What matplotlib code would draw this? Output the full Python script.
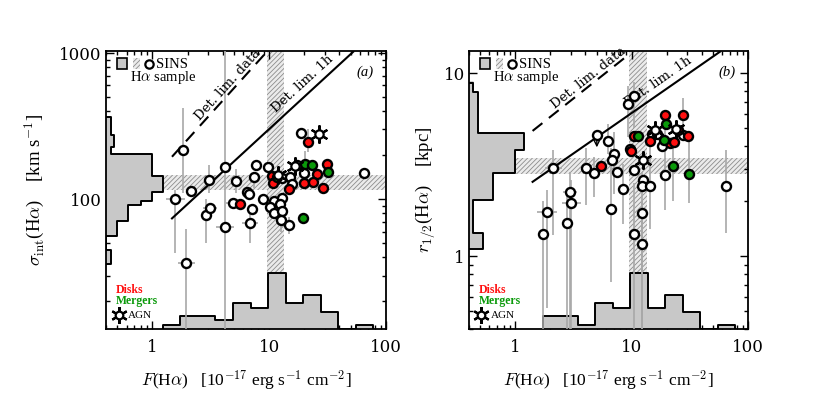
import numpy as np
import matplotlib.pyplot as plt
from matplotlib.patches import Rectangle

plt.rcParams['font.family'] = ['Liberation Serif', 'DejaVu Serif']
plt.rcParams['mathtext.fontset'] = 'cm'
plt.rcParams['hatch.linewidth'] = 0.6

# ---------------- DATA : panel (a) ----------------
a_white_F = [1.82, 1.57, 2.15, 3.03, 4.15, 2.9, 3.13, 4.18, 5.15, 4.9, 6.5, 6.7, 7.1, 6.8,
             7.35, 7.75, 8.8, 9.7, 12.8, 15.1, 15.6, 10.9, 12.8, 10.2, 12.4, 10.9, 12.8,
             12.7, 14.7, 17.2, 18.7, 19.8, 64.6, 1.95]
a_white_s = [217, 100, 113, 135, 165, 78, 87, 64.6, 133, 94, 112, 109, 86, 69,
             141, 170, 100, 166, 139, 141, 127, 97, 101, 88.5, 92, 80.6, 83,
             72, 67, 171, 282, 150, 152, 36.6]
a_disk_F = [5.57, 10.5, 10.8, 14.8, 21.6, 25.5, 19.8, 23.6, 28.8, 31.0]
a_disk_s = [92, 144, 129, 118, 245, 148, 129, 131, 120, 175]
a_merg_F = [11.6, 20.3, 23.1, 31.6, 19.6]
a_merg_s = [142, 173, 171, 153, 74]
a_agn_F = [26.9, 16.5, 11.9]
a_agn_s = [279, 168, 147]

# vertical error bars (F, sigma, low, high)
a_yerr_F = [1.82, 1.57, 1.95, 4.15, 3.03, 2.9, 5.15, 6.8, 7.35, 21.6, 12.7, 14.7, 20.3]
a_yerr_s = [217, 100, 36.6, 165, 135, 78, 133, 69, 141, 245, 72, 67, 173]
a_yerr_lo = [110, 43, 13, 13, 110, 50, 110, 50, 120, 210, 60, 58, 160]
a_yerr_hi = [420, 115, 62, 1100, 170, 100, 160, 85, 150, 300, 85, 75, 215]
# horizontal error bars (F, sigma, low, high)
a_xerr_F = [1.57, 1.95, 3.13, 4.18, 4.9, 6.8]
a_xerr_s = [100, 36.6, 87, 64.6, 94, 69]
a_xerr_lo = [1.3, 1.65, 2.7, 3.5, 4.3, 5.8]
a_xerr_hi = [1.9, 2.3, 3.6, 5.0, 5.6, 8.0]

# histograms (log10 edges, counts)
a_fhist_edges = [0.09, 0.24, 0.39, 0.54, 0.69, 0.84, 0.99, 1.14, 1.29, 1.44, 1.59, 1.74, 1.89]
a_fhist_counts = [1, 3, 3, 2, 6, 5, 13, 6, 8, 4, 0, 1]
a_shist_edges = [2.56, 2.44, 2.355, 2.31, 2.155, 2.05, 1.99, 1.96, 1.85, 1.75, 1.65, 1.555]
a_shist_counts = [1.1, 1.9, 1.1, 10.6, 13.1, 10.6, 8.1, 5.0, 2.6, 0, 1.1]

# detection limits (F, sigma endpoints)
a_lim1h_F = [1.47, 52.5]
a_lim1h_s = [73.8, 1021]
a_limdat_F = [1.47, 9.55]
a_limdat_s = [195, 1021]
# SINS ranges (hatched bands)
a_band_F = [9.55, 13.5]
a_band_s = [115, 146]

# ---------------- DATA : panel (b) ----------------
b_white_F = [2.1, 5.03, 6.3, 7.13, 6.85, 4.07, 4.76, 7.55, 8.5, 9.4, 10.5, 9.7, 10.5, 12.5,
             12.2, 14.4, 12.4, 14.9, 16.4, 18.4, 19.5, 27.5, 64.4, 2.96, 3.02, 1.87, 2.78,
             6.67, 1.73, 10.6, 12.2]
b_white_r = [3.04, 4.62, 4.25, 3.64, 3.37, 3.04, 2.85, 2.89, 2.34, 6.83, 7.5, 3.85, 2.95, 2.62,
             2.42, 2.42, 1.73, 4.64, 4.64, 3.99, 2.77, 4.62, 2.41, 2.23, 1.96, 1.75, 1.51,
             1.82, 1.33, 1.32, 1.16]
b_disk_F = [5.47, 9.8, 10.6, 14.4, 19.4, 21.4, 23.2, 24.9, 27.5, 30.7]
b_disk_r = [3.1, 3.75, 4.56, 4.25, 5.9, 4.16, 4.22, 4.92, 5.9, 4.54]
b_merg_F = [11.3, 19.8, 19.1, 22.6, 31.0]
b_merg_r = [4.52, 5.3, 4.3, 3.11, 2.8]
b_agn_F = [12.6, 15.8, 24.3]
b_agn_r = [3.35, 4.88, 4.95]
b_ulim_F = [5.03]
b_ulim_r = [4.62]
b_ulim_to = [3.8]

b_yerr_F = [1.73, 1.87, 2.1, 2.96, 3.02, 2.78, 4.07, 4.76, 6.67, 6.3, 7.13, 9.4, 10.5,
            10.6, 12.2, 12.4, 14.4, 19.5, 22.6, 27.5, 31.0, 64.4, 8.5]
b_yerr_r = [1.33, 1.75, 3.04, 2.23, 1.96, 1.51, 3.04, 2.85, 1.82, 4.25, 3.64, 6.83, 7.5,
            1.32, 1.16, 1.73, 2.42, 2.77, 3.11, 5.9, 2.8, 2.41, 2.34]
b_yerr_lo = [0.4, 0.52, 1.3, 0.4, 0.4, 0.4, 1.9, 2.1, 0.72, 3.6, 2.2, 4.5, 5.0,
             0.4, 0.4, 0.4, 1.4, 1.8, 2.0, 4.3, 1.95, 1.34, 1.5]
b_yerr_hi = [2.0, 2.3, 3.8, 2.9, 2.6, 2.2, 3.9, 3.5, 3.9, 5.3, 4.8, 8.5, 9.0,
             2.5, 2.0, 2.9, 4.0, 6.3, 4.0, 7.3, 4.2, 3.8, 3.2]
b_xerr_F = [1.87, 3.02, 2.96, 2.1]
b_xerr_r = [1.75, 1.96, 2.23, 3.04]
b_xerr_lo = [1.55, 2.5, 2.6, 1.8]
b_xerr_hi = [2.3, 3.7, 3.4, 2.5]

b_fhist_edges = [0.24, 0.39, 0.54, 0.69, 0.84, 0.99, 1.14, 1.29, 1.44, 1.59, 1.74, 1.89]
b_fhist_counts = [3, 3, 1, 6, 5, 13, 5, 8, 4, 0, 1]
b_rhist_edges = [0.947, 0.898, 0.786, 0.674, 0.579, 0.455, 0.306, 0.127, 0.042]
b_rhist_counts = [0.9, 2.2, 2.2, 12.7, 10.7, 5.6, 0.9, 3.3]

b_lim1h_F = [1.41, 57.5]
b_lim1h_r = [2.55, 13.1]
b_limdat_F = [1.41, 9.7]
b_limdat_r = [4.84, 12.8]
b_band_F = [9.6, 13.5]
b_band_r = [2.83, 3.46]

RED = '#ff1010'
GREEN = '#0a9a0a'
EGRAY = '#a8a8a8'
HFILL = '#c8c8c8'
UNIT = 0.0155  # axes fraction per histogram count
HATCH = dict(facecolor='#ebebeb', edgecolor='#8c8c8c', hatch='///////', lw=0)


def band(ax, xr, yr):
    ax.axvspan(xr[0], xr[1], zorder=1, **HATCH)
    ax.axhspan(yr[0], yr[1], zorder=1, **HATCH)


def xhist(ax, edges, counts):
    tr = ax.get_xaxis_transform()
    x = 10 ** np.repeat(edges, 2)
    h = np.concatenate([[0], np.repeat(counts, 2), [0]]) * UNIT
    ax.fill_between(x, 0, h, transform=tr, facecolor=HFILL, edgecolor='none', zorder=2)
    ax.plot(x, h, transform=tr, color='k', lw=1.4, zorder=2.5)


def yhist(ax, edges, counts):
    tr = ax.get_yaxis_transform()
    y = 10 ** np.repeat(edges, 2)
    w = np.concatenate([[0], np.repeat(counts, 2), [0]]) * UNIT
    ax.fill_betweenx(y, 0, w, transform=tr, facecolor=HFILL, edgecolor='none', zorder=2)
    ax.plot(w, y, transform=tr, color='k', lw=1.4, zorder=2.5)


def errs(ax, yF, yv, ylo, yhi, xF, xv, xlo, xhi):
    ax.vlines(yF, ylo, yhi, color=EGRAY, lw=1.2, zorder=3)
    ax.hlines(xv, xlo, xhi, color=EGRAY, lw=1.2, zorder=3)


def points(ax, wF, wv, dF, dv, mF, mv, aF, av):
    kw = dict(ls='none', marker='o', ms=6.5, mec='k', mew=1.7, zorder=5)
    ax.plot(wF, wv, mfc='white', **kw)
    ax.plot(dF, dv, mfc=RED, **kw)
    ax.plot(mF, mv, mfc=GREEN, **kw)
    ax.plot(aF, av, ls='none', marker=(6, 2, 0), ms=13, mec='k', mew=1.6, zorder=6)
    ax.plot(aF, av, ls='none', marker='o', ms=6, mfc='white', mec='k', mew=1.6, zorder=6)


def lim_line(ax, xs, ys, ls, label, frac, off):
    ax.plot(xs, ys, color='k', ls=ls, lw=1.5, dashes=(6, 4) if ls == '--' else (None, None), zorder=3)
    p = ax.transData.transform(np.column_stack([xs, ys]))
    d = p[1] - p[0]
    ang = np.degrees(np.arctan2(d[1], d[0]))
    n = np.array([-d[1], d[0]]) / np.hypot(*d)
    q = p[0] + frac * d + off * n
    lx, ly = ax.transData.inverted().transform(q)
    ax.text(lx, ly, label, rotation=ang, ha='center', va='bottom', rotation_mode='anchor',
            fontsize=9.5, zorder=4, family='DejaVu Serif')


def legend(ax, tag):
    ax.add_patch(Rectangle((0.038, 0.935), 0.037, 0.04, transform=ax.transAxes,
                           facecolor=HFILL, edgecolor='k', lw=1.2, zorder=7))
    ax.add_patch(Rectangle((0.096, 0.935), 0.025, 0.04, transform=ax.transAxes,
                           zorder=7, **HATCH))
    ax.plot([0.155], [0.953], transform=ax.transAxes, marker='o', ms=6, mfc='white',
            mec='k', mew=1.6, zorder=7, clip_on=False)
    ax.text(0.18, 0.953, 'SINS', transform=ax.transAxes, fontsize=10.5, va='center', zorder=7)
    ax.text(0.086, 0.905, r'H$\alpha$ sample', transform=ax.transAxes, fontsize=10.5,
            va='center', zorder=7)
    ax.text(0.955, 0.925, tag, transform=ax.transAxes, fontsize=10.5, style='italic',
            ha='right', va='center', zorder=7)
    ax.text(0.035, 0.14, 'Disks', transform=ax.transAxes, fontsize=8.5, color=RED,
            weight='bold', va='center', zorder=7)
    ax.text(0.035, 0.10, 'Mergers', transform=ax.transAxes, fontsize=8.5, color=GREEN,
            weight='bold', va='center', zorder=7)
    ax.plot([0.045], [0.05], transform=ax.transAxes, marker=(6, 2, 0), ms=12, mec='k', mew=1.6, zorder=7)
    ax.plot([0.045], [0.05], transform=ax.transAxes, marker='o', ms=5.5, mfc='white', mec='k',
            mew=1.6, zorder=7)
    ax.text(0.08, 0.05, 'AGN', transform=ax.transAxes, fontsize=8, va='center', zorder=7)


def style(ax):
    ax.set_xscale('log')
    ax.set_yscale('log')
    ax.tick_params(which='both', direction='in', top=True, right=True, width=1)
    ax.tick_params(which='major', length=6)
    ax.tick_params(which='minor', length=3)
    ax.tick_params(axis='x', pad=7)
    ax.tick_params(axis='y', pad=3)
    for s in ax.spines.values():
        s.set_linewidth(1.3)
    ax.set_xlim(0.4, 100)
    ax.set_xticks([1, 10, 100])
    ax.set_xticklabels(['1', '10', '100'])
    ax.set_xlabel(r'$F$(H$\alpha$)   [10$^{-17}$ erg s$^{-1}$ cm$^{-2}$]', fontsize=12.5, labelpad=9)


def ticklabels(ax):
    for t in ax.get_xticklabels() + ax.get_yticklabels():
        t.set_family('DejaVu Serif')
        t.set_fontsize(12)


fig = plt.figure(figsize=(8.3, 4.16), dpi=100)
axA = fig.add_axes([0.1277, 0.209, 0.3373, 0.668])
axB = fig.add_axes([0.565, 0.209, 0.336, 0.668])

# ---------------- PANEL (a) ----------------
style(axA)
axA.set_ylim(12.9, 1030)
axA.set_yticks([100, 1000])
axA.set_yticklabels(['100', '1000'])
ticklabels(axA)
axA.set_ylabel(r'$\sigma_{\rm int}$(H$\alpha$)    [km s$^{-1}$]', fontsize=13.5, labelpad=9)
band(axA, a_band_F, a_band_s)
xhist(axA, a_fhist_edges, a_fhist_counts)
yhist(axA, a_shist_edges, a_shist_counts)
errs(axA, a_yerr_F, a_yerr_s, a_yerr_lo, a_yerr_hi, a_xerr_F, a_xerr_s, a_xerr_lo, a_xerr_hi)
lim_line(axA, a_lim1h_F, a_lim1h_s, '-', 'Det. lim. 1h', 0.76, 4)
lim_line(axA, a_limdat_F, a_limdat_s, '--', 'Det. lim. data', 0.64, 0)
points(axA, a_white_F, a_white_s, a_disk_F, a_disk_s, a_merg_F, a_merg_s, a_agn_F, a_agn_s)
legend(axA, '(a)')

# ---------------- PANEL (b) ----------------
style(axB)
axB.set_ylim(0.4, 13.2)
axB.set_yticks([1, 10])
axB.set_yticklabels(['1', '10'])
ticklabels(axB)
axB.set_ylabel(r'$r_{1/2}$(H$\alpha$)    [kpc]', fontsize=13.5, labelpad=5)
band(axB, b_band_F, b_band_r)
xhist(axB, b_fhist_edges, b_fhist_counts)
yhist(axB, b_rhist_edges, b_rhist_counts)
errs(axB, b_yerr_F, b_yerr_r, b_yerr_lo, b_yerr_hi, b_xerr_F, b_xerr_r, b_xerr_lo, b_xerr_hi)
for f, r, t in zip(b_ulim_F, b_ulim_r, b_ulim_to):
    axB.annotate('', xy=(f, t), xytext=(f, r), zorder=4,
                 arrowprops=dict(arrowstyle='->', color='k', lw=1.0))
lim_line(axB, b_lim1h_F, b_lim1h_r, '-', 'Det. lim. 1h', 0.7, 4)
lim_line(axB, b_limdat_F, b_limdat_r, '--', 'Det. lim. data', 0.62, 0)
points(axB, b_white_F, b_white_r, b_disk_F, b_disk_r, b_merg_F, b_merg_r, b_agn_F, b_agn_r)
legend(axB, '(b)')

fig.savefig('out.png', dpi=100)
